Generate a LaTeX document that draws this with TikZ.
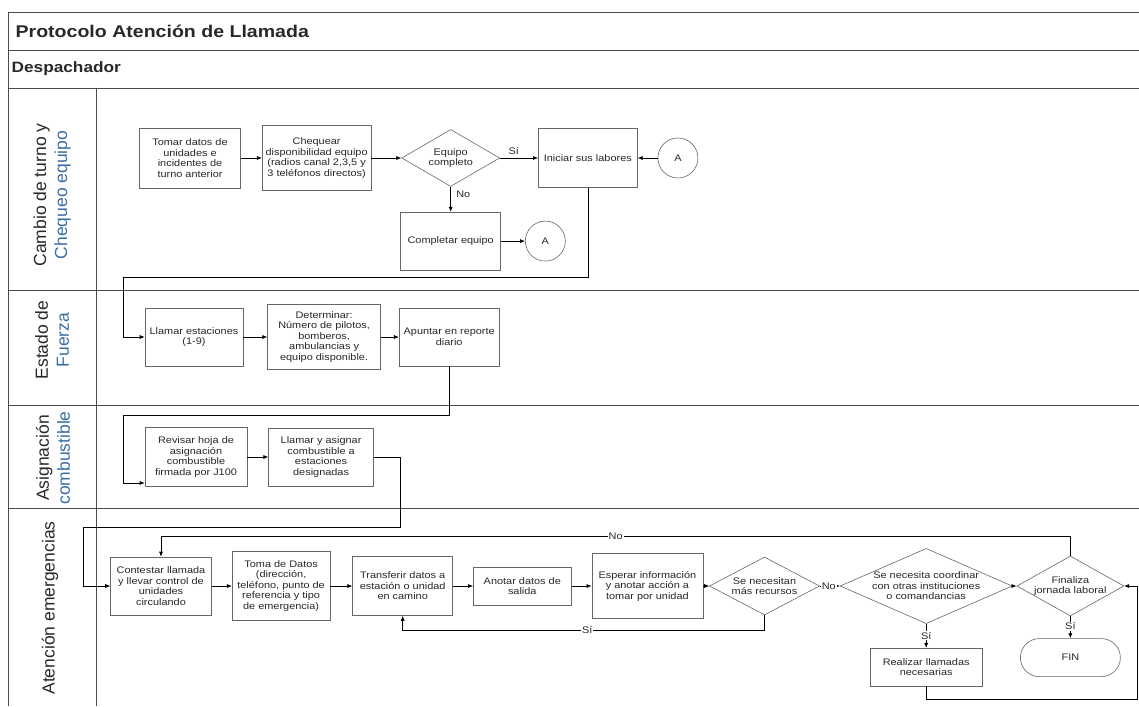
\documentclass[tikz,border=0pt]{standalone}
\usepackage{fontspec}
\setmainfont{Liberation Sans}[FakeStretch=1.15]
\newfontfamily\lanefont{Liberation Sans}
\usetikzlibrary{positioning,arrows.meta,calc,shapes.geometric}

\definecolor{laneblue}{RGB}{58,110,165}
\definecolor{ink}{RGB}{40,40,40}

\begin{document}
\begin{tikzpicture}[
  x=1pt, y=-1pt,
  >={Latex[length=5pt,width=4pt]},
  font=\fontsize{9.5}{10.5}\selectfont,
  text=ink,
  line width=0.6pt,
  sz/.style n args={2}{minimum width=#1pt, minimum height=#2pt},
  proc/.style={
     draw=black!60,
     fill=white,
     align=center,
     inner sep=1pt
  },
  dec/.style={
     diamond,
     draw=black!60,
     align=center,
     inner sep=0pt
  },
  conn/.style={circle, draw=black!60, minimum size=40pt, inner sep=0pt},
  term/.style={draw=black!60, rounded corners=19pt, minimum width=100pt, minimum height=38pt},
  flow/.style={->, draw=black!75},
  tag/.style={fill=white, inner sep=1pt},
  frame/.style={draw=black!70, line width=0.8pt},
  lane/.style={rotate=90, align=center, font=\lanefont\fontsize{17.5}{21}\selectfont}
]

\useasboundingbox (0,0) rectangle (1139,706);

% pool and swimlanes
\draw[frame] (1139,12) -- (8,12) -- (8,706);
\draw[frame] (8,50)  -- (1139,50);
\draw[frame] (8,88)  -- (1139,88);
\draw[frame] (8,290) -- (1139,290);
\draw[frame] (8,405) -- (1139,405);
\draw[frame] (8,508) -- (1139,508);
\draw[frame] (96,88) -- (96,706);

\node[anchor=west, font=\bfseries\fontsize{17}{20}\selectfont] (title) at (12,31) {Protocolo Atención de Llamada};
\node[anchor=west, font=\bfseries\fontsize{15}{18}\selectfont] (pool)  at (8,69)  {Despachador};

\node[lane] (lcambio)   at (52,195) {Cambio de turno y\\\textcolor{laneblue}{Chequeo equipo}};
\node[lane] (lestado)   at (52,340) {Estado de\\\textcolor{laneblue}{Fuerza}};
\node[lane] (lasign)    at (53,458) {Asignación\\\textcolor{laneblue}{combustible}};
\node[lane] (latencion) at (50,608) {Atención emergencias};

% cambio de turno
\node[proc, sz={101}{60}] (tomar) at (190,158) {Tomar datos de\\unidades e\\incidentes de\\turno anterior};
\node[proc, sz={109}{65}, right=21pt of tomar]    (chequear)  {Chequear\\disponibilidad equipo\\(radios canal 2,3,5 y\\3 teléfonos directos)};
\node[dec,  sz={98}{57}, aspect=1.72, right=30pt of chequear] (equipo) {Equipo\\completo};
\node[proc, sz={99}{59},  right=38pt of equipo]   (iniciar)   {Iniciar sus labores};
\node[conn, right=20pt of iniciar]                (conA)      {A};
\node[proc, sz={100}{58}, below=25pt of equipo]   (completar) {Completar equipo};
\node[conn, right=24pt of completar]              (conB)      {A};

% estado de fuerza
\node[proc, sz={98}{58}] (llamarest) at (194,337) {Llamar estaciones\\(1-9)};
\node[proc, sz={113}{65}, right=24pt of llamarest] (determinar) {Determinar:\\Número de pilotos,\\bomberos,\\ambulancias y\\equipo disponible.};
\node[proc, sz={100}{58}, right=18pt of determinar] (apuntar)   {Apuntar en reporte\\diario};

% combustible
\node[proc, sz={102}{59}] (revisar) at (196,457) {Revisar hoja de\\asignación\\combustible\\firmada por J100};
\node[proc, sz={105}{58}, right=21pt of revisar] (asignar) {Llamar y asignar\\combustible a\\estaciones\\designadas};

% atencion de emergencias
\node[proc, sz={101}{58}] (contestar) at (161,586) {Contestar llamada\\y llevar control de\\unidades\\circulando};
\node[proc, sz={98}{69},  right=20pt of contestar]  (tomadatos)  {Toma de Datos\\(dirección,\\teléfono, punto de\\referencia y tipo\\de emergencia)};
\node[proc, sz={100}{59}, right=22pt of tomadatos]  (transferir) {Transferir datos a\\estación o unidad\\en camino};
\node[proc, sz={98}{38},  right=20pt of transferir] (anotar)     {Anotar datos de\\salida};
\node[proc, sz={111}{65}, right=20pt of anotar]     (esperar)    {Esperar información\\y anotar acción a\\tomar por unidad};
\node[dec,  sz={110}{58}, aspect=1.9,  right=6pt of esperar]    (recursos)  {Se necesitan\\más recursos};
\node[dec,  sz={160}{70}, aspect=2.29, right=20pt of recursos]  (coordinar) {Se necesita coordinar\\con otras instituciones\\o comandancias};
\node[dec,  sz={107}{60}, aspect=1.78, right=4pt of coordinar]  (finaliza)  {Finaliza\\jornada laboral};
\node[proc, sz={112}{38}, below=24pt of coordinar] (realizar) {Realizar llamadas\\necesarias};
\node[term, below=22pt of finaliza] (fin) {FIN};

\coordinate (ret1)  at (123,277);
\coordinate (ret2)  at (123,415);
\coordinate (ret3a) at (400,527);
\coordinate (ret3b) at (83,527);
\coordinate (rim)   at (1137,0);
\coordinate (siback) at ($(recursos.south)+(0,15)$);
\coordinate (noloop) at ($(finaliza.north)+(0,-19)$);
\coordinate (rbot)   at ($(realizar.south)+(0,13)$);

\draw[->] (tomar) -- (chequear);
\draw[->] (chequear) -- (equipo);
\draw[->] (equipo) -- node[above, pos=.36] {Sí} (iniciar);
\draw[->] (equipo) -- node[right, pos=.3, xshift=2pt] {No} (completar);
\draw[->] (completar) -- (conB);
\draw[->] (conA) -- (iniciar);

\draw[->] (iniciar.south) |- (ret1) |- (llamarest.west);

\draw[->] (llamarest) -- (determinar);
\draw[->] (determinar) -- (apuntar);

\draw[->] (apuntar.south) |- (ret2) |- ([yshift=-26pt]revisar.west);

\draw[->] (revisar) -- (asignar);

\draw[->] (asignar.east) -| (ret3a) -- (ret3b) |- (contestar.west);

\draw[->] (contestar) -- (tomadatos);
\draw[->] (tomadatos) -- (transferir);
\draw[->] (transferir) -- (anotar);
\draw[->] (anotar) -- (esperar);
\draw[->] (esperar) -- (recursos);
\draw[->] (recursos) -- node[tag, pos=.45] {No} (coordinar);
\draw[->] (recursos.south) -- (siback) -| node[tag, pos=.245] {Sí} (transferir.south);
\draw[->] (coordinar) -- (finaliza);
\draw[->] (coordinar) -- node[tag] {Sí} (realizar);
\draw[->] (finaliza) -- node[tag, pos=.45] {Sí} (fin);

\draw[->] (finaliza.north) -- (noloop) -| node[tag, pos=.25] {No} (contestar.north);

\draw[->] (realizar.south) -- (rbot) -- (rbot -| rim) |- (finaliza.east);

\end{tikzpicture}
\end{document}
